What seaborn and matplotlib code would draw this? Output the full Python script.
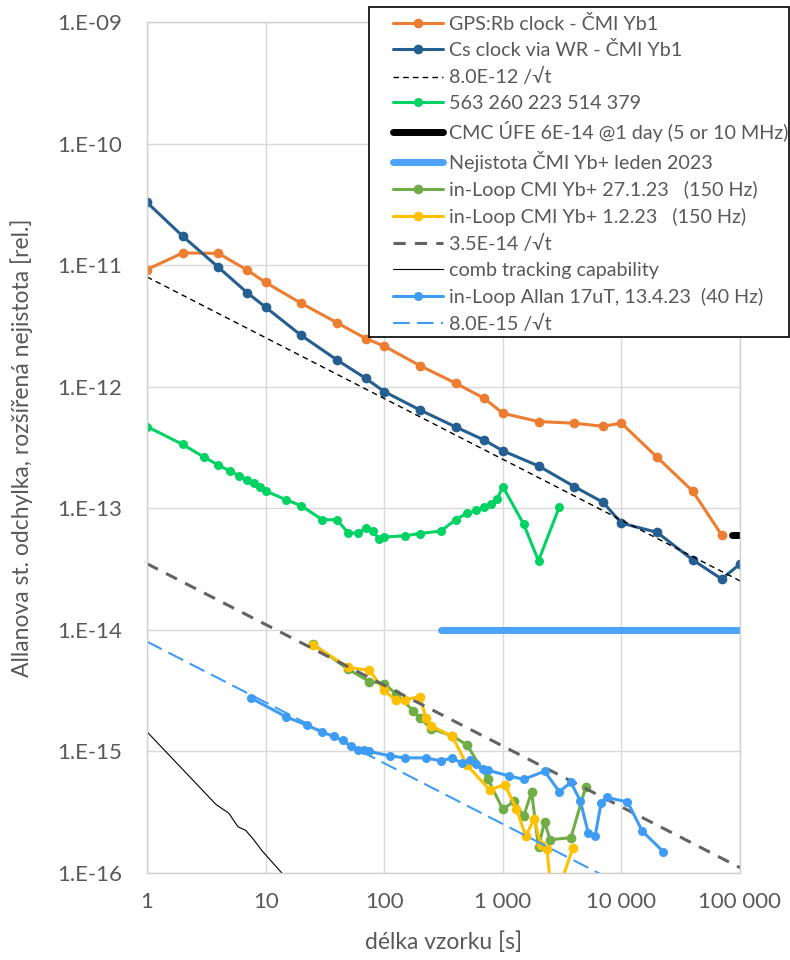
import matplotlib
matplotlib.use("Agg")
import matplotlib.pyplot as plt
from matplotlib.patches import Rectangle
import seaborn as sns
import numpy as np

# ---------------- data ----------------
gps_t = [1, 2, 4, 7, 10, 20, 40, 70, 100, 200, 400, 700, 1000, 2000, 4000, 7000,
         10000, 20000, 40000, 70000]
gps_y = [9.2e-12, 1.26e-11, 1.25e-11, 9.1e-12, 7.2e-12, 4.85e-12, 3.36e-12, 2.49e-12,
         2.16e-12, 1.49e-12, 1.07e-12, 8.0e-13, 6.05e-13, 5.17e-13, 5.01e-13, 4.73e-13,
         5.01e-13, 2.63e-13, 1.38e-13, 6.03e-14]

cs_t = [1, 2, 4, 7, 10, 20, 40, 70, 100, 200, 400, 700, 1000, 2000, 4000, 7000,
        10000, 20000, 40000, 70000, 100000]
cs_y = [3.28e-11, 1.73e-11, 9.6e-12, 5.93e-12, 4.51e-12, 2.64e-12, 1.66e-12, 1.17e-12,
        9.12e-13, 6.44e-13, 4.67e-13, 3.63e-13, 2.97e-13, 2.23e-13, 1.51e-13, 1.12e-13,
        7.55e-14, 6.34e-14, 3.76e-14, 2.62e-14, 3.48e-14]

g563_t = [1, 2, 3, 4, 5, 6, 7, 8, 9, 10, 15, 20, 30, 40, 50, 60, 70, 80, 90, 100,
          150, 200, 300, 400, 500, 600, 700, 800, 900, 1000, 1500, 2000, 3000]
g563_y = [4.70e-13, 3.35e-13, 2.65e-13, 2.26e-13, 2.03e-13, 1.85e-13, 1.71e-13, 1.61e-13,
          1.50e-13, 1.39e-13, 1.17e-13, 1.05e-13, 8.05e-14, 8.05e-14, 6.22e-14, 6.30e-14,
          6.84e-14, 6.54e-14, 5.6e-14, 5.8e-14, 5.94e-14, 6.2e-14, 6.5e-14, 8.05e-14,
          9.14e-14, 9.6e-14, 1.02e-13, 1.09e-13, 1.20e-13, 1.51e-13, 7.4e-14, 3.7e-14,
          1.03e-13]

cmc_t = [86400, 100000]
cmc_y = [6e-14, 6e-14]

unc_t = [300, 100000]
unc_y = [1e-14, 1e-14]

il1_t = [25, 50, 75, 100, 125, 175, 200, 250, 375, 500, 750, 1000, 1250, 1500, 1750,
         2000, 2250, 2500, 3750, 5000]
il1_y = [7.67e-15, 4.72e-15, 3.76e-15, 3.61e-15, 2.99e-15, 2.17e-15, 1.88e-15, 1.54e-15,
         1.34e-15, 1.13e-15, 5.90e-16, 3.34e-16, 3.89e-16, 2.95e-16, 4.64e-16, 1.63e-16,
         2.64e-16, 1.88e-16, 1.95e-16, 5.10e-16]

il2_t = [25, 50, 75, 100, 125, 150, 200, 225, 250, 375, 500, 775, 1040, 1300, 1560,
         1840, 2090, 2360, 2620, 3900]
il2_y = [7.53e-15, 4.91e-15, 4.64e-15, 3.18e-15, 2.63e-15, 2.66e-15, 2.83e-15, 1.88e-15,
         1.62e-15, 1.33e-15, 7.69e-16, 4.83e-16, 5.34e-16, 3.39e-16, 2.01e-16, 2.79e-16,
         1.71e-16, 1.58e-16, 5.2e-17, 1.61e-16]

comb_t = [1, 3.82, 4.9, 5.85, 6.8, 7.8, 9.3, 13.7, 15]
comb_y = [1.45e-15, 3.66e-16, 3.1e-16, 2.4e-16, 2.24e-16, 1.92e-16, 1.53e-16, 1.0e-16, 9.0e-17]

al_t = [7.5, 15, 22.5, 30, 37.5, 45, 52.5, 60, 67.5, 75, 112.5, 150, 225, 300, 375, 450,
        525, 600, 675, 750, 1125, 1500, 2250, 3000, 3750, 4500, 5250, 6000, 6750, 7500,
        11250, 15000, 22500]
al_y = [2.75e-15, 1.92e-15, 1.64e-15, 1.44e-15, 1.33e-15, 1.23e-15, 1.10e-15, 1.02e-15,
        1.02e-15, 1.00e-15, 9.18e-16, 8.85e-16, 8.85e-16, 8.36e-16, 8.85e-16, 7.98e-16,
        8.45e-16, 7.83e-16, 7.13e-16, 7.00e-16, 6.29e-16, 5.90e-16, 6.87e-16, 4.66e-16,
        5.57e-16, 3.93e-16, 2.14e-16, 2.01e-16, 3.78e-16, 4.18e-16, 3.85e-16, 2.21e-16,
        1.50e-16]

# 1/sqrt(t) reference lines: coefficient at t = 1 s
ref_t = [1, 100000]
coef_a = 8.0e-12
coef_b = 3.5e-14
coef_c = 8.0e-15

labels = ["GPS:Rb clock - ČMI Yb1", "Cs clock via WR - ČMI Yb1", "8.0E-12 /√t",
          "563 260 223 514 379", "CMC ÚFE 6E-14 @1 day (5 or 10 MHz)",
          "Nejistota ČMI Yb+ leden 2023", "in-Loop CMI Yb+ 27.1.23   (150 Hz)",
          "in-Loop CMI Yb+ 1.2.23   (150 Hz)", "3.5E-14 /√t", "comb tracking capability",
          "in-Loop Allan 17uT, 13.4.23  (40 Hz)", "8.0E-15 /√t"]

xtick_vals = [1, 10, 100, 1000, 10000, 100000]
xtick_labels = ["1", "10", "100", "1 000", "10 000", "100 000"]
ytick_vals = [1e-16, 1e-15, 1e-14, 1e-13, 1e-12, 1e-11, 1e-10, 1e-9]
ytick_labels = ["1.E-16", "1.E-15", "1.E-14", "1.E-13", "1.E-12", "1.E-11", "1.E-10", "1.E-09"]

# ---------------- style ----------------
sns.set_theme(style="white")
plt.rcParams["font.family"] = ["Lato", "DejaVu Sans"]
TXT = "#595959"

fig = plt.figure(figsize=(7.9, 9.6), dpi=100)
ax = fig.add_axes([147 / 790, 1 - 873 / 960, (740 - 147) / 790, (873 - 22) / 960])
ax.set_xscale("log")
ax.set_yscale("log")

mk = dict(marker="o", markersize=7.0, markeredgewidth=0, linewidth=2.2, errorbar=None)

sns.lineplot(x=gps_t, y=gps_y, ax=ax, color="#ED7D31", label=labels[0], **mk)
sns.lineplot(x=cs_t, y=cs_y, ax=ax, color="#255E91", label=labels[1], **mk)
sns.lineplot(x=ref_t, y=[coef_a / np.sqrt(t) for t in ref_t], ax=ax, color="black",
             linewidth=1.0, linestyle=(0, (4, 3)), label=labels[2], errorbar=None)
sns.lineplot(x=g563_t, y=g563_y, ax=ax, color="#00D364", label=labels[3],
             marker="o", markersize=6.5, markeredgewidth=0, linewidth=2.2, errorbar=None)
sns.lineplot(x=cmc_t, y=cmc_y, ax=ax, color="black", linewidth=5.0,
             solid_capstyle="round", label=labels[4], errorbar=None)
sns.lineplot(x=unc_t, y=unc_y, ax=ax, color="#4DA3F8", linewidth=5.0,
             solid_capstyle="round", label=labels[5], errorbar=None)
sns.lineplot(x=il1_t, y=il1_y, ax=ax, color="#70AD47", label=labels[6], **mk)
sns.lineplot(x=il2_t, y=il2_y, ax=ax, color="#FFC000", label=labels[7], **mk)
sns.lineplot(x=ref_t, y=[coef_b / np.sqrt(t) for t in ref_t], ax=ax, color="#636363",
             linewidth=2.2, linestyle=(0, (4, 3)), label=labels[8], errorbar=None)
sns.lineplot(x=comb_t, y=comb_y, ax=ax, color="black", linewidth=0.8,
             label=labels[9], errorbar=None)
sns.lineplot(x=al_t, y=al_y, ax=ax, color="#3F9CF5", label=labels[10],
             marker="o", markersize=6.5, markeredgewidth=0, linewidth=2.2, errorbar=None)
sns.lineplot(x=ref_t, y=[coef_c / np.sqrt(t) for t in ref_t], ax=ax, color="#3F9CF5",
             linewidth=1.5, linestyle=(0, (8, 3.5)), label=labels[11], errorbar=None)

ax.set_xlim(1, 100000)
ax.set_ylim(1e-16, 1e-9)
ax.set_xticks(xtick_vals, xtick_labels)
ax.set_yticks(ytick_vals, ytick_labels)
ax.minorticks_off()
ax.tick_params(axis="both", length=0, labelsize=16, labelcolor=TXT)
ax.tick_params(axis="y", pad=18)
ax.tick_params(axis="x", pad=14)
ax.grid(True, color="#d9d9d9", linewidth=1.0)
for side, sp in ax.spines.items():
    sp.set_color("#d0d0d0")
    sp.set_linewidth(1.0)

ax.set_xlabel("délka vzorku [s]", fontsize=16.5, color=TXT, va="center")
ax.xaxis.set_label_coords(0.5, (873 - 942) / 851)
ax.set_ylabel("Allanova st. odchylka, rozšířená nejistota [rel.]", fontsize=16.5,
              color=TXT, va="center")
ax.yaxis.set_label_coords((22 - 147) / 593, 0.5)

# legend
handles, labs = ax.get_legend_handles_labels()
if ax.get_legend() is not None:
    ax.get_legend().remove()
box = Rectangle((369 / 790, 1 - 337 / 960), 420 / 790, 330 / 960, transform=fig.transFigure,
                facecolor="white", edgecolor="black", linewidth=1.2, zorder=4)
fig.patches.append(box)
leg = fig.legend(handles, labs, loc="upper left", bbox_to_anchor=(393 / 790, 1 - 14.5 / 960),
                 bbox_transform=fig.transFigure, frameon=False, fontsize=14.2,
                 labelcolor=TXT, borderpad=0, borderaxespad=0, handlelength=2.55,
                 handletextpad=0.27, labelspacing=0.45)
leg.set_zorder(5)

fig.savefig("out.png", dpi=100)
